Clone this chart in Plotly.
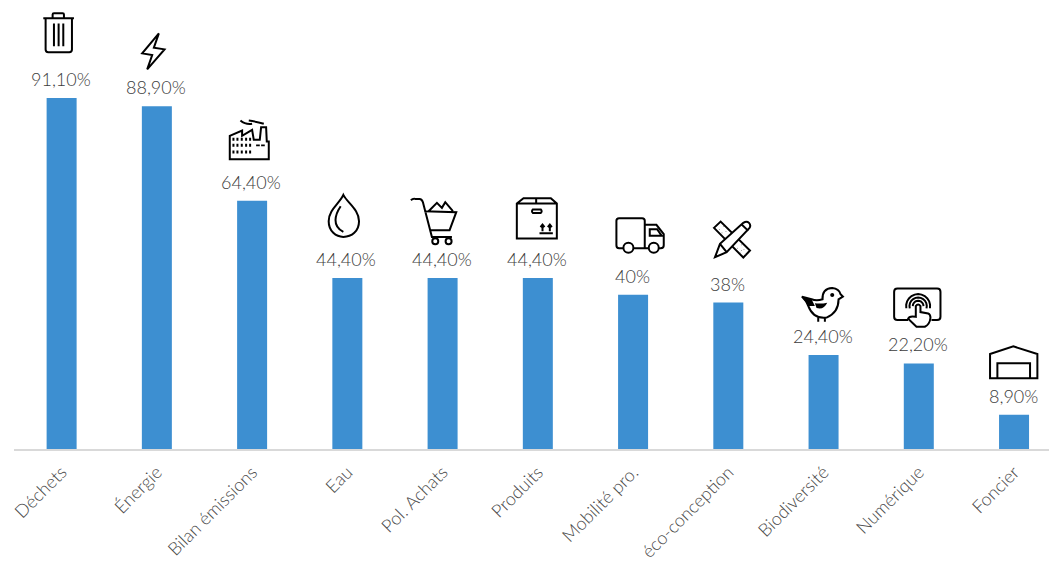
import re, math
import plotly.graph_objects as go

categories = ["Déchets", "Énergie", "Bilan émissions", "Eau", "Pol. Achats", "Produits",
              "Mobilité pro.", "éco-conception", "Biodiversité", "Numérique", "Foncier"]
values = [91.1, 88.9, 64.4, 44.4, 44.4, 44.4, 40, 38, 24.4, 22.2, 8.9]
labels = ["91,10%", "88,90%", "64,40%", "44,40%", "44,40%", "44,40%", "40%", "38%", "24,40%", "22,20%", "8,90%"]

BLUE = "#3d8fd1"
FONT = "Lato"


def circle(cx, cy, r):
    k = 0.5523 * r
    return (f"M{cx-r} {cy} C{cx-r} {cy-k} {cx-k} {cy-r} {cx} {cy-r} "
            f"C{cx+k} {cy-r} {cx+r} {cy-k} {cx+r} {cy} "
            f"C{cx+r} {cy+k} {cx+k} {cy+r} {cx} {cy+r} "
            f"C{cx-k} {cy+r} {cx-r} {cy+k} {cx-r} {cy} Z ")


def arc(cx, cy, r, a0, a1):
    pts = []
    for i in range(13):
        a = math.radians(a0 + (a1 - a0) * i / 12)
        pts.append(f"{cx + r*math.cos(a):.1f} {cy - r*math.sin(a):.1f}")
    return "M" + " L".join(pts) + " "


def rect(x0, y0, x1, y1):
    return f"M{x0} {y0} L{x1} {y0} L{x1} {y1} L{x0} {y1} Z "


factory_windows = "".join(rect(x, y, x + 6, y + 9) for y in (414, 432, 452) for x in (696, 708, 721, 734, 746))
factory_windows += rect(767, 434, 778, 439) + rect(782, 434, 793, 439)
ruler_dots = "".join(circle(x, y, 1.3) for x, y in
                     [(358, 62), (370, 52), (366, 72), (378, 68), (412, 118), (424, 108), (420, 130), (432, 122), (436, 136), (425, 125)])

# Each icon: drawn in 3x crop coordinates, anchor = (bar centre, bar top) in the same coordinates.
icons = {
    "Déchets": ((185, 295), [
        ("M130 56 L222 56 M158 54 L158 45 Q158 41 162 41 L188 41 Q192 41 192 45 L192 54 "
         "M137 56 L137 150 Q137 158 145 158 L208 158 Q216 158 216 150 L216 56 "
         "M162 72 L162 140 M176 72 L176 140 M190 72 L190 140", None)]),
    "Énergie": ((469, 319), [("M475 100 L425 160 L455 165 L440 208 L492 148 L460 143 Z", None)]),
    "Bilan émissions": ((755, 603), [
        ("M688 478 L688 408 L725 392 L725 408 L755 390 L760 420 L778 420 L782 382 L797 382 L799 425 "
         "L805 425 L805 478 Z M720 362 Q735 375 755 372 M745 362 Q765 365 790 372", None),
        (factory_windows, "#000000")]),
    "Eau": ((142, 295), [
        ("M130 46 C120 70 86 90 86 125 C86 155 108 172 130 172 C155 172 177 155 177 125 C177 90 142 70 130 46 Z "
         "M122 80 C105 105 95 140 130 157", None)]),
    "Pol. Achats": ((427, 295), [
        ("M332 62 Q338 56 345 58 L358 58 Q365 58 368 68 L395 172 L455 172 M372 95 L468 98 L448 152 L387 152 "
         "M385 95 L410 70 L425 85 L435 68 L458 95 " + circle(405, 185, 9) + circle(445, 185, 9), None)]),
    "Produits": ((713, 295), [
        ("M650 72 L670 56 L752 56 L770 72 L770 177 L650 177 Z M650 72 L770 72 M708 56 L708 72 "
         "M698 90 L722 90 Q727 95 722 100 L698 100 Q693 95 698 90 Z", None),
        ("M718 161 L758 161 M727 155 L727 137 M721 143 L727 135 L733 143 "
         "M749 155 L749 137 M743 143 L749 135 L755 143", None)]),
    "Mobilité pro.": ((100, 257), [
        ("M70 117 L58 117 Q50 117 50 108 L50 35 Q50 27 58 27 L127 27 Q135 27 135 35 L135 117 L102 117 "
         "M135 47 L170 47 L192 75 L192 108 Q192 117 183 117 L178 117 M135 117 L146 117 "
         "M150 60 L172 60 L186 80 L150 80 Z " + circle(86, 116, 15) + circle(162, 116, 15), None)]),
    "éco-conception": ((385, 281), [
        ("M342 57 L362 38 L450 125 L430 146 Z", "#ffffff"),
        (ruler_dots, "#555555"),
        ("M345 145 L360 105 L430 42 Q440 35 447 42 Q454 50 448 58 L380 130 Z M360 105 L380 130 M425 47 L445 66", "#ffffff")]),
    "Biodiversité": ((671, 437), [
        ("M606 262 L635 270 Q650 276 668 270 Q666 238 697 236 Q718 238 722 255 L729 262 L716 270 "
         "Q716 310 680 325 Q640 330 625 290 Q620 275 606 262 Z M655 325 L655 337 M675 325 L675 337", None),
        ("M606 262 L635 270 L645 290 L625 290 Z M645 282 Q665 284 682 280 Q672 302 650 296 Z", "#000000"),
        (circle(697, 257, 6), "#000000")]),
    "Numérique": ((957, 462), [
        ("M925 332 L893 332 Q883 332 883 322 L883 247 Q883 237 893 237 L1012 237 Q1022 237 1022 247 "
         "L1022 322 Q1022 332 1012 332 L995 332 "
         + arc(955, 290, 16, 0, 180) + arc(955, 290, 26, -15, 195) + arc(955, 290, 36, -10, 190), None),
        ("M948 322 L948 290 Q955 280 962 290 L962 308 L985 312 Q992 315 992 325 Q990 345 975 352 "
         "L950 352 L925 328 Q928 318 948 322 Z", "#ffffff")]),
    "Foncier": ((1242, 617), [
        ("M1170 435 L1240 412 L1312 435 L1312 508 L1170 508 Z "
         "M1192 508 L1192 463 L1290 463 L1290 508 M1170 508 L1312 508", None)]),
}


def to_pixels(path, anchor):
    """Convert crop coordinates to pixel offsets from the shape anchor."""
    out, is_x = [], True
    for tok in re.findall(r"[MLQCZ]|-?\d+\.?\d*", path):
        if tok.isalpha():
            out.append(tok)
            is_x = True
        elif is_x:
            out.append(f"{(float(tok) - anchor[0]) / 3:.2f}")
            is_x = False
        else:
            out.append(f"{-(float(tok) - anchor[1]) / 3:.2f}")
            is_x = True
    return " ".join(out)


shapes = []
for cat, val in zip(categories, values):
    anchor, parts = icons[cat]
    for path, fill in parts:
        stroke = "rgba(0,0,0,0)" if fill in ("#555555", "#000000") else "#000000"
        shapes.append(dict(
            type="path", xref="x", yref="y", xsizemode="pixel", ysizemode="pixel",
            xanchor=cat, yanchor=val, path=to_pixels(path, anchor),
            line=dict(color=stroke, width=2),
            fillcolor=fill if fill else "rgba(0,0,0,0)",
        ))

annotations = [
    dict(x=c, y=v, text=t, xref="x", yref="y", showarrow=False, yanchor="bottom", yshift=6, xshift=-1,
         font=dict(family=FONT, size=18, color="#3c3c3c", weight=300))
    for c, v, t in zip(categories, values, labels)
]

fig = go.Figure(go.Bar(
    x=categories, y=values, width=0.315,
    marker=dict(color=BLUE, line=dict(width=0)),
    hoverinfo="skip",
))
fig.update_layout(
    width=1049, height=563, margin=dict(l=14, r=0, t=0, b=113.5),
    paper_bgcolor="white", plot_bgcolor="white", showlegend=False,
    shapes=shapes, annotations=annotations,
    xaxis=dict(type="category", range=[-0.5, 10.367], tickangle=-45, ticks="", showgrid=False,
               showline=True, linecolor="#d9d9d9", linewidth=1.5, automargin=False, ticklabelstandoff=4,
               tickfont=dict(family=FONT, size=18, color="#4a4a4a", weight=300)),
    yaxis=dict(range=[0, 116.5], visible=False, showgrid=False, zeroline=False),
)
fig.write_html("out.html", config=dict(displayModeBar=False),
               post_script="document.body.style.margin='0';document.documentElement.style.overflow='hidden';")
